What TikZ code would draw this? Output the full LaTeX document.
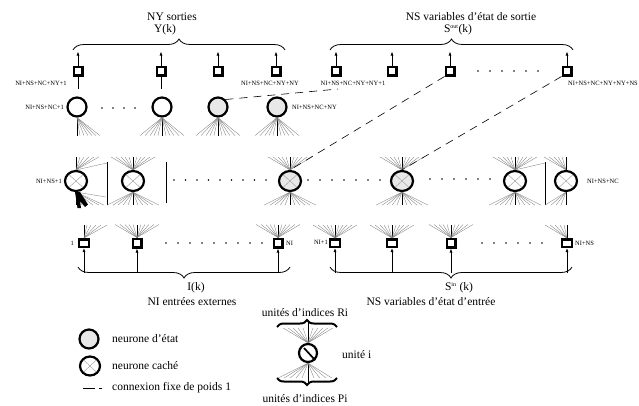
\documentclass[tikz,border=0pt]{standalone}
\usepackage{fontspec}
\setmainfont{Liberation Serif}
\usetikzlibrary{shapes.geometric,arrows.meta,decorations.pathreplacing}
\newcommand\fanlines[3]{\foreach \d in {#3}{\draw[fan] (#1) -- ++(\d,#2);}}
\newcommand\dotsrow[2]{\foreach \x in {#1}{\fill (\x,#2) circle (0.9);}}
\tikzset{
  box/.style={draw, line width=2.5pt, minimum width=8.5, minimum height=8.5, inner sep=0},
  wbox/.style={box, minimum width=10, minimum height=7.5},
  neu/.style={circle, draw, line width=2.2pt, minimum size=19, inner sep=0},
  stat/.style={neu, fill=black!9},
  hid/.style={ellipse, draw, line width=2.2pt, minimum width=22, minimum height=20, inner sep=0,
     path picture={\draw[black!35, line width=0.5pt] (path picture bounding box.north west) -- (path picture bounding box.south east) (path picture bounding box.north east) -- (path picture bounding box.south west);}},
  hidst/.style={hid, fill=black!9},
  fan/.style={black!50, line width=0.35pt},
  stem/.style={line width=0.8pt},
  lab/.style={font=\fontsize{11.5}{13}\selectfont, inner sep=0},
  sml/.style={font=\fontsize{6.5}{7}\selectfont, inner sep=0},
  arr/.style={line width=0.8pt, -{Latex[length=4pt,width=3pt]}},
  brc/.style={decorate, decoration={brace, amplitude=11pt}, line width=0.8pt},
  ubrc/.style={decorate, decoration={brace, amplitude=7pt}, line width=2pt},
  fixed/.style={dash pattern=on 8pt off 6pt, line width=0.6pt},
  bar/.style={line width=1pt}
}
\begin{document}
\begin{tikzpicture}[x=1pt,y=-1pt]
\useasboundingbox (0,0) rectangle (639,405);

% ---------- top labels and braces
\node[lab] (tnys) at (172,17) {NY sorties};
\node[lab] (tyk) at (165,30) {Y(k)};
\node[lab] (tnss) at (471,17) {NS variables d'état de sortie};
\node[lab] (tsout) at (458,30) {S\textsuperscript{\fontsize{6}{6}\selectfont out}(k)};
\draw[brc] (73,50) -- (285,50);
\draw[brc] (330,50) -- (573,50);

% ---------- output boxes
\node[box] (y1) at (78,71) {};
\node[box] (y2) at (161,71) {};
\node[box] (y3) at (218,71) {};
\node[box] (y4) at (276,71) {};
\node[box] (so1) at (336,71) {};
\node[box] (so2) at (392,71) {};
\node[box] (so3) at (450,71) {};
\node[box] (so4) at (567,71) {};
\foreach \n in {y1,y2,y3,y4,so1,so2,so3,so4}{\draw[arr] (\n.north) -- ++(0,-14);}
\draw[stem] (y1.south) -- ++(0,12);
\draw[stem] (y2.south) -- ++(0,12);
\dotsrow{478,490,502,514,526,538}{71}
\node[sml] (l1) at (41,83) {NI+NS+NC+NY+1};
\node[sml] (l2) at (270,83) {NI+NS+NC+NY+NY};
\node[sml] (l3) at (353,83) {NI+NS+NC+NY+NY+1};
\node[sml, anchor=west] (l4) at (568,83) {NI+NS+NC+NY+NY+NS};

% ---------- top neurons
\node[neu] (t1) at (77,107) {};
\node[neu] (t2) at (162,107) {};
\node[stat] (t3) at (218,107) {};
\node[stat] (t4) at (277,107) {};
\node[sml, anchor=east] (l5) at (64,107) {NI+NS+NC+1};
\node[sml, anchor=west] (l6) at (292,107) {NI+NS+NC+NY};
\dotsrow{102,113,124,135}{108}
\foreach \n in {t1,t2,t3,t4}{\draw[stem] (\n.south) -- ++(0,18);}
\fanlines{t1.south}{18}{3,7,11,15,19,23}
\fanlines{t2.south}{18}{-22,-17,-12,-8,-4,4,8,12,17,22}
\fanlines{t3.south}{18}{-22,-17,-12,-8,-4,4,8,12,17,22}
\fanlines{t4.south}{18}{-22,-17,-12,-8,-4,4,8,12,17,22}

% ---------- hidden / state neurons
\node[hid] (m1) at (76,181) {};
\node[hid] (m2) at (133,181) {};
\node[hidst] (m3) at (290,181) {};
\node[hidst] (m4) at (402,181) {};
\node[hid] (m5) at (515,181) {};
\node[hid] (m6) at (566,181) {};
\node[sml, anchor=east] (l7) at (62,181) {NI+NS+1};
\node[sml, anchor=west] (l8) at (587,181) {NI+NS+NC};
\dotsrow{174,185.5,197,208.5,220,231.5,243,254.5,266}{180}
\dotsrow{308,320,332,344,356,368,380}{180}
\dotsrow{430,442,454,466,478,490}{179}
\draw[bar] (107,162) -- (107,205);
\draw[bar] (166,162) -- (166,203);
\draw[bar] (545,162) -- (545,205);
\foreach \n in {m1,m2,m3,m4,m5,m6}{\draw[stem] (\n.north) -- ++(0,-13); \draw[stem] (\n.south) -- ++(0,13);}
\fanlines{m1.north}{-13}{4,8,13,18,23}
\draw[fan] (m1.north) -- (107,163);
\fanlines{m2.north}{-13}{-22,-17,-12,-8,-4,4,8,12,17,22}
\fanlines{m3.north}{-13}{-22,-17,-12,-8,-4,4,8,12,17,22}
\fanlines{m4.north}{-13}{-22,-17,-12,-8,-4,4,8,12,17,22}
\fanlines{m5.north}{-13}{-22,-17,-12,-8,-4,4,8,12,17,22}
\draw[fan] (m5.north) -- (545,163);
\fanlines{m6.north}{-13}{-4,-8,-12,-17,-22}
\fanlines{m1.south}{13}{6,11,17,23,28}
\draw[fan] (m1.south) -- (106,197);
\fanlines{m2.south}{13}{-26,-20,-15,-10,-5,5,10,15,20,26}
\fanlines{m3.south}{13}{-26,-20,-15,-10,-5,5,10,15,20,26}
\fanlines{m4.south}{13}{-26,-20,-15,-10,-5,5,10,15,20,26}
\fanlines{m5.south}{13}{-26,-20,-15,-10,-5,5,10,15,20,26}
\fanlines{m6.south}{13}{-5,-10,-15,-21}
\fill (75,192) -- (77.5,208) -- (81,208) -- (80,201) -- (85,207) -- (88,204.5) -- (80,192) -- cycle;

% ---------- fixed connections
\coordinate (d1) at (338,89);
\draw[fixed] (t3.north east) -- (d1);
\draw[fixed] (so3.south west) -- (m3.north);
\draw[fixed] (so4.south west) -- (m4.north);

% ---------- input boxes
\node[wbox] (b1) at (84,243) {};
\node[box] (b2) at (137,243) {};
\node[box] (b3) at (278,243) {};
\node[wbox] (b4) at (335,243) {};
\node[wbox] (b5) at (392,243) {};
\node[box] (b6) at (451,243) {};
\node[wbox] (b7) at (567,243) {};
\node[sml, anchor=east] (l9) at (74,243) {1};
\node[sml, anchor=west] (l10) at (286,243) {NI};
\node[sml, anchor=east] (l11) at (328,242) {NI+1};
\node[sml, anchor=west] (l12) at (575,243) {NI+NS};
\dotsrow{166,178,190,202,214,226,238,250,262}{243}
\dotsrow{482,494,506,518,530,542}{243}
\foreach \n in {b1,b2,b3,b4,b5,b6,b7}{\draw[stem] (\n.north) -- ++(0,-13); \draw[arr] (\n.south |- 0,273) -- (\n.south);}
\fanlines{b1.north}{-13}{3,7,12,17,23}
\fanlines{b2.north}{-13}{-22,-17,-12,-8,-4,4,8,12,17,22}
\fanlines{b3.north}{-13}{-22,-17,-12,-8,-4,4,8,12,17,22}
\fanlines{b4.north}{-13}{-22,-17,-12,-8,-4,4,8,12,17,22}
\fanlines{b5.north}{-13}{-22,-17,-12,-8,-4,4,8,12,17,22}
\fanlines{b6.north}{-13}{-22,-17,-12,-8,-4,4,8,12,17,22}
\fanlines{b7.north}{-13}{-3,-7,-12,-17,-22}

% ---------- bottom braces and labels
\draw[brc] (290,267) -- (78,267);
\draw[brc] (572,267) -- (330,267);
\node[lab] (bik) at (196,288) {I(k)};
\node[lab] (bni) at (192,302) {NI entrées externes};
\node[lab] (bsin) at (459,288) {S\textsuperscript{\fontsize{6}{6}\selectfont in} (k)};
\node[lab] (bns) at (431,302) {NS variables d'état d'entrée};

% ---------- legend
\node[stat] (lg1) at (89,339) {};
\node[hid, minimum width=20, minimum height=19] (lg2) at (90,366) {};
\node[lab, anchor=west] (lt1) at (112,339) {neurone d'état};
\node[lab, anchor=west] (lt2) at (112,366) {neurone caché};
\node[lab, anchor=west] (lt3) at (112,388) {connexion fixe de poids 1};
\draw[line width=0.8pt, dash pattern=on 12pt off 4pt on 3pt off 20pt] (83,388) -- (102,388);

% ---------- unit i
\node[neu, minimum size=18] (u) at (308,353) {};
\draw[line width=1.7pt] ([shift={(-4,-5)}]u.center) -- (u.south east);
\draw[stem] (u.north) -- ++(0,-21);
\draw[stem] (u.south) -- ++(0,21);
\fanlines{u.north}{-15}{-25,-20,-15,-10,-5,5,10,15,20,25}
\fanlines{u.south}{15}{-30,-24,-18,-12,-6,6,12,18,24}
\draw[ubrc] (277,327) -- (337,327);
\draw[ubrc] (337,378) -- (277,378);
\node[lab] (ur) at (305,313) {unités d'indices Ri};
\node[lab] (up) at (305,399) {unités d'indices Pi};
\node[lab, anchor=west] (ui) at (342,355) {unité i};
\end{tikzpicture}
\end{document}
